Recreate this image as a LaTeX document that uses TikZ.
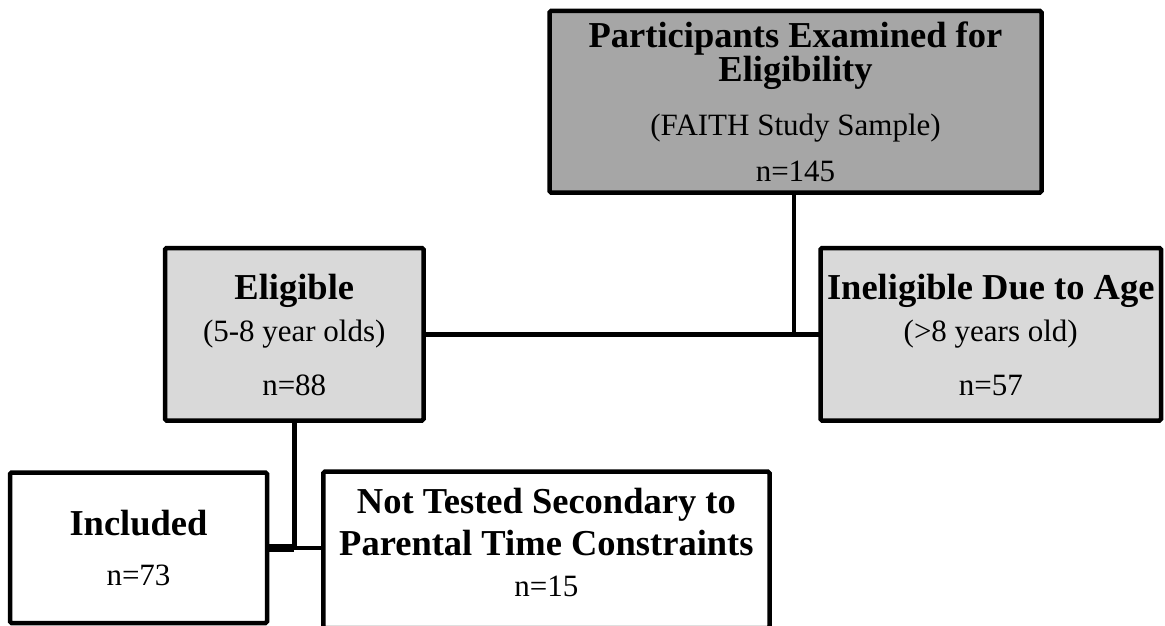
\documentclass[tikz,border=0pt]{standalone}
\usepackage{fontspec}
\setmainfont{Liberation Serif}
\usetikzlibrary{calc}
\definecolor{darkfill}{HTML}{A6A6A6}
\definecolor{lightfill}{HTML}{D9D9D9}
\newcommand{\Tb}{\fontsize{36.5}{40}\bfseries}
\newcommand{\Tr}{\fontsize{31}{36}\mdseries\selectfont}
\newcommand{\Up}[1]{\rule{0pt}{#1pt}}
\newcommand{\Dn}[1]{\rule[-#1pt]{0pt}{#1pt}}
\newcommand{\Line}[1]{\hbox to \hsize{\hss#1\hss}}
\newcommand{\Gap}[1]{\vskip#1pt\relax}
\newcommand{\Stack}[2]{\vbox{\hsize=#1pt\baselineskip=0pt\lineskiplimit=-1000pt\lineskip=0pt\parskip=0pt #2}}
\tikzset{
  box/.style={draw=black, line width=4.5pt, rounded corners=1.5pt, inner sep=0pt, outer sep=0pt},
  conn/.style={draw=black, line width=4.5pt}
}
\begin{document}
\begin{tikzpicture}[x=1pt,y=-1pt]
\useasboundingbox (0,0) rectangle (1165,626);
\node[box, fill=darkfill, minimum width=492pt, minimum height=181.5pt] (top) at (795.5,101.75)
  {\Stack{480}{\Line{\Tb\Up{36}Participants Examined for}\Gap{34.5}\Line{\Tb Eligibility}\Gap{53.5}\Line{\Tr(FAITH Study Sample)}\Gap{46}\Line{\Tr n=145\Dn{11.5}}}};
\node[box, fill=lightfill, minimum width=258.5pt, minimum height=172.5pt] (elig) at (294.25,334.25)
  {\Stack{250}{\Line{\Tb\Up{51}Eligible}\Gap{42.5}\Line{\Tr(5-8 year olds)}\Gap{53.5}\Line{\Tr n=88\Dn{25.5}}}};
\node[box, fill=lightfill, minimum width=340.5pt, minimum height=172.5pt] (inel) at (990.75,334.25)
  {\Stack{330}{\Line{\Tb\Up{51}Ineligible Due to Age}\Gap{42.5}\Line{\Tr(>8 years old)}\Gap{53.5}\Line{\Tr n=57\Dn{25.5}}}};
\node[box, fill=white, minimum width=257pt, minimum height=150.5pt] (inc) at (138.5,547.75)
  {\Stack{250}{\Line{\Tb\Up{62.5}Included}\Gap{50}\Line{\Tr n=73\Dn{38}}}};
\node[box, fill=white, minimum width=446.2pt, minimum height=156.3pt] (nt) at (546.4,549.85)
  {\Stack{436}{\Line{\Tb\Up{41.6}Not Tested Secondary to}\Gap{41.7}\Line{\Tb Parental Time Constraints}\Gap{41.7}\Line{\Tr n=15\Dn{31.3}}}};
\coordinate (j1) at (794,334.25);
\draw[conn] (top.south -| j1) -- (j1);
\draw[conn] (elig.east) -- (inel.west);
\draw[conn] (elig.south) -- (elig.south |- inc.east);
\draw[conn, line width=8pt] (inc.east) -- (inc.east -| elig.south);
\draw[conn] (inc.east) -- (inc.east -| nt.west);
\end{tikzpicture}
\end{document}
